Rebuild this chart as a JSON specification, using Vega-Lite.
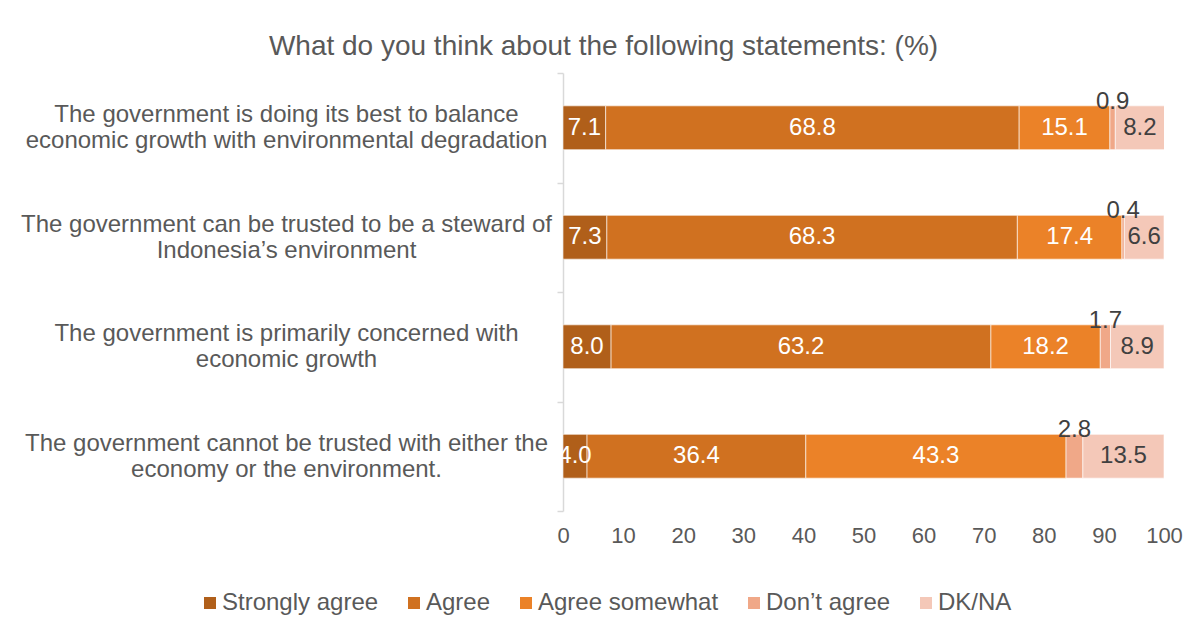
{
  "$schema": "https://vega.github.io/schema/vega-lite/v6.json",
  "autosize": {"type": "none"},
  "width": 601,
  "height": 438,
  "padding": {"left": 563, "top": 73, "right": 37, "bottom": 121},
  "background": "white",
  "config": {
    "font": "Liberation Sans",
    "view": {"stroke": null}
  },
  "title": {
    "text": "What do you think about the following statements: (%)",
    "fontSize": 28,
    "fontWeight": "normal",
    "color": "#595959",
    "anchor": "middle",
    "frame": "group",
    "dx": -260,
    "offset": 0
  },
  "data": {
    "values": [
      {"s": "The government is doing its best to balance\neconomic growth with environmental degradation", "c": "Strongly agree", "v": 7.1},
      {"s": "The government is doing its best to balance\neconomic growth with environmental degradation", "c": "Agree", "v": 68.8},
      {"s": "The government is doing its best to balance\neconomic growth with environmental degradation", "c": "Agree somewhat", "v": 15.1},
      {"s": "The government is doing its best to balance\neconomic growth with environmental degradation", "c": "Don’t agree", "v": 0.9},
      {"s": "The government is doing its best to balance\neconomic growth with environmental degradation", "c": "DK/NA", "v": 8.2},
      {"s": "The government can be trusted to be a steward of\nIndonesia’s environment", "c": "Strongly agree", "v": 7.3},
      {"s": "The government can be trusted to be a steward of\nIndonesia’s environment", "c": "Agree", "v": 68.3},
      {"s": "The government can be trusted to be a steward of\nIndonesia’s environment", "c": "Agree somewhat", "v": 17.4},
      {"s": "The government can be trusted to be a steward of\nIndonesia’s environment", "c": "Don’t agree", "v": 0.4},
      {"s": "The government can be trusted to be a steward of\nIndonesia’s environment", "c": "DK/NA", "v": 6.6},
      {"s": "The government is primarily concerned with\neconomic growth", "c": "Strongly agree", "v": 8.0},
      {"s": "The government is primarily concerned with\neconomic growth", "c": "Agree", "v": 63.2},
      {"s": "The government is primarily concerned with\neconomic growth", "c": "Agree somewhat", "v": 18.2},
      {"s": "The government is primarily concerned with\neconomic growth", "c": "Don’t agree", "v": 1.7},
      {"s": "The government is primarily concerned with\neconomic growth", "c": "DK/NA", "v": 8.9},
      {"s": "The government cannot be trusted with either the\neconomy or the environment.", "c": "Strongly agree", "v": 4.0},
      {"s": "The government cannot be trusted with either the\neconomy or the environment.", "c": "Agree", "v": 36.4},
      {"s": "The government cannot be trusted with either the\neconomy or the environment.", "c": "Agree somewhat", "v": 43.3},
      {"s": "The government cannot be trusted with either the\neconomy or the environment.", "c": "Don’t agree", "v": 2.8},
      {"s": "The government cannot be trusted with either the\neconomy or the environment.", "c": "DK/NA", "v": 13.5}
    ]
  },
  "transform": [
    {"calculate": "indexof(['Strongly agree','Agree','Agree somewhat','Don’t agree','DK/NA'], datum.c)", "as": "k"},
    {"stack": "v", "groupby": ["s"], "sort": [{"field": "k", "order": "ascending"}], "as": ["x0", "x1"]},
    {"calculate": "(datum.x0 + datum.x1) / 2", "as": "xm"}
  ],
  "encoding": {
    "y": {
      "field": "s",
      "type": "nominal",
      "sort": null,
      "scale": {"paddingInner": 0, "paddingOuter": 0},
      "axis": {
        "title": null,
        "labelExpr": "datum.value == null ? '' : split(datum.label, '\\n')",
        "labelFontSize": 24,
        "labelLineHeight": 26,
        "labelColor": "#595959",
        "labelLimit": 0,
        "labelAlign": "center",
        "labelBaseline": "middle",
        "labelPadding": 271,
        "labelOffset": -13,
        "domainColor": "#D9D9D9",
        "domainWidth": 1.5,
        "tickColor": "#D9D9D9",
        "tickWidth": 1.5,
        "tickSize": 6,
        "tickBand": "extent"
      }
    }
  },
  "layer": [
    {
      "mark": {"type": "bar", "height": {"band": 0.4}, "stroke": "white", "strokeWidth": 0.6, "clip": true},
      "encoding": {
        "x": {
          "field": "x0",
          "type": "quantitative",
          "scale": {"domain": [0, 100], "nice": false},
          "axis": {
            "title": null,
            "values": [0, 10, 20, 30, 40, 50, 60, 70, 80, 90, 100],
            "domain": false,
            "ticks": false,
            "grid": false,
            "labelFlush": false,
            "labelFontSize": 22,
            "labelColor": "#595959",
            "labelPadding": 14
          }
        },
        "x2": {"field": "x1"},
        "color": {
          "field": "c",
          "type": "nominal",
          "scale": {
            "domain": ["Strongly agree", "Agree", "Agree somewhat", "Don’t agree", "DK/NA"],
            "range": ["#B05F1A", "#D07120", "#EB8228", "#F0A888", "#F4C8B8"]
          },
          "legend": {
            "title": null,
            "orient": "none",
            "direction": "horizontal",
            "legendX": -365,
            "legendY": 518,
            "padding": 0,
            "symbolType": "square",
            "symbolSize": 144,
            "symbolStrokeWidth": 0,
            "labelFontSize": 24,
            "labelColor": "#595959",
            "labelOffset": 0,
            "labelLimit": 0,
            "columnPadding": 23
          }
        }
      }
    },
    {
      "transform": [{"filter": "datum.k <= 2"}],
      "mark": {"type": "text", "fontSize": 24, "color": "white", "baseline": "middle"},
      "encoding": {
        "x": {"field": "xm", "type": "quantitative"},
        "text": {"field": "v", "type": "quantitative", "format": ".1f"}
      }
    },
    {
      "transform": [{"filter": "datum.k == 4"}],
      "mark": {"type": "text", "fontSize": 24, "color": "#404040", "baseline": "middle"},
      "encoding": {
        "x": {"field": "xm", "type": "quantitative"},
        "text": {"field": "v", "type": "quantitative", "format": ".1f"}
      }
    },
    {
      "transform": [{"filter": "datum.k == 3"}],
      "mark": {"type": "text", "fontSize": 24, "color": "#404040", "baseline": "middle", "dy": -26},
      "encoding": {
        "x": {"field": "xm", "type": "quantitative"},
        "text": {"field": "v", "type": "quantitative", "format": ".1f"}
      }
    }
  ]
}
